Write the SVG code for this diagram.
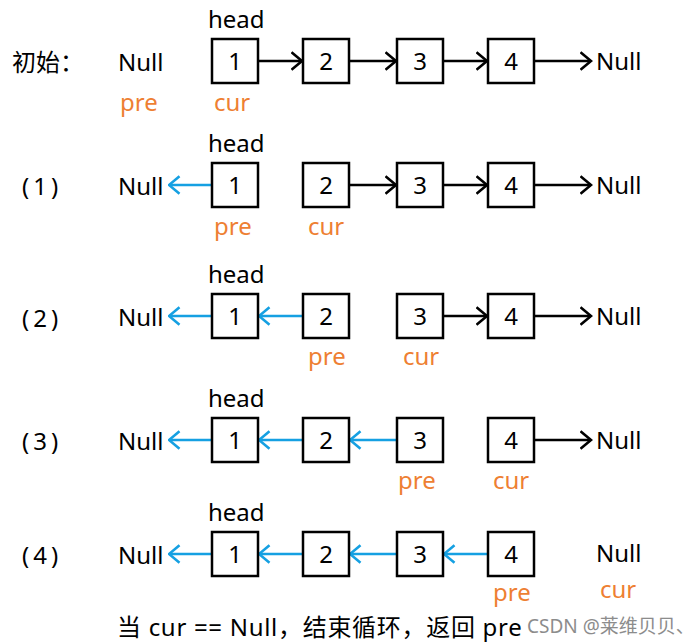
<svg xmlns="http://www.w3.org/2000/svg" width="695" height="643" viewBox="0 0 695 643">
<style>
text{font-family:"Noto Sans","Noto Sans CJK SC",sans-serif;font-size:24px;fill:#000}
.box{fill:#fff;stroke:#000;stroke-width:2.5}
.d{text-anchor:middle}
.o{fill:#EE7F33}
.p{letter-spacing:4px}
.cap{letter-spacing:0.7px}
.bk{stroke:#000;stroke-width:2.5;fill:none}
.bl{stroke:#15A0E2;stroke-width:2.5;fill:none}
.wm{font-size:19px;fill:#8c8c8c}
</style>
<defs>
<marker id="ak" viewBox="0 0 13 20" refX="11.5" refY="10" markerWidth="13" markerHeight="20" markerUnits="userSpaceOnUse" orient="auto"><path d="M1,1.2 L11.5,10 L1,18.8" fill="none" stroke="#000" stroke-width="2.6"/></marker>
<marker id="ab" viewBox="0 0 13 20" refX="11.5" refY="10" markerWidth="13" markerHeight="20" markerUnits="userSpaceOnUse" orient="auto"><path d="M1,1.2 L11.5,10 L1,18.8" fill="none" stroke="#15A0E2" stroke-width="2.6"/></marker>
</defs>

<g id="labels">
<text x="12" y="71">初始：</text>
<text class="p" x="22" y="195">(1)</text>
<text class="p" x="22" y="327">(2)</text>
<text class="p" x="22" y="450">(3)</text>
<text class="p" x="22" y="564">(4)</text>
</g>

<g id="connectors">
<line class="bk" x1="259" y1="61" x2="302" y2="61" marker-end="url(#ak)"/>
<line class="bk" x1="350" y1="61" x2="396" y2="61" marker-end="url(#ak)"/>
<line class="bk" x1="444" y1="61" x2="487" y2="61" marker-end="url(#ak)"/>
<line class="bk" x1="535" y1="61" x2="591" y2="61" marker-end="url(#ak)"/>

<line class="bl" x1="211" y1="185" x2="169" y2="185" marker-end="url(#ab)"/>
<line class="bk" x1="350" y1="185" x2="396" y2="185" marker-end="url(#ak)"/>
<line class="bk" x1="444" y1="185" x2="487" y2="185" marker-end="url(#ak)"/>
<line class="bk" x1="535" y1="185" x2="591" y2="185" marker-end="url(#ak)"/>

<line class="bl" x1="211" y1="316" x2="169" y2="316" marker-end="url(#ab)"/>
<line class="bl" x1="302" y1="316" x2="259" y2="316" marker-end="url(#ab)"/>
<line class="bk" x1="444" y1="316" x2="487" y2="316" marker-end="url(#ak)"/>
<line class="bk" x1="535" y1="316" x2="591" y2="316" marker-end="url(#ak)"/>

<line class="bl" x1="211" y1="440" x2="169" y2="440" marker-end="url(#ab)"/>
<line class="bl" x1="302" y1="440" x2="259" y2="440" marker-end="url(#ab)"/>
<line class="bl" x1="396" y1="440" x2="350" y2="440" marker-end="url(#ab)"/>
<line class="bk" x1="535" y1="440" x2="591" y2="440" marker-end="url(#ak)"/>

<line class="bl" x1="211" y1="554" x2="169" y2="554" marker-end="url(#ab)"/>
<line class="bl" x1="302" y1="554" x2="259" y2="554" marker-end="url(#ab)"/>
<line class="bl" x1="396" y1="554" x2="350" y2="554" marker-end="url(#ab)"/>
<line class="bl" x1="487" y1="554" x2="444" y2="554" marker-end="url(#ab)"/>
</g>

<!-- Row 0 -->
<g id="r0-nullL"><text x="118" y="71">Null</text></g>
<g id="r0-n1"><rect class="box" x="212" y="39" width="46" height="44"/><text class="d" x="235" y="70">1</text></g>
<g id="r0-n2"><rect class="box" x="303" y="39" width="46" height="44"/><text class="d" x="326" y="70">2</text></g>
<g id="r0-n3"><rect class="box" x="397" y="39" width="46" height="44"/><text class="d" x="420" y="70">3</text></g>
<g id="r0-n4"><rect class="box" x="488" y="39" width="46" height="44"/><text class="d" x="511" y="70">4</text></g>
<g id="r0-nullR"><text x="596" y="70">Null</text></g>
<g id="r0-tags"><text x="208" y="28">head</text><text class="o" x="120" y="111">pre</text><text class="o" x="214" y="111">cur</text></g>

<!-- Row 1 -->
<g id="r1-nullL"><text x="118" y="195">Null</text></g>
<g id="r1-n1"><rect class="box" x="212" y="163" width="46" height="44"/><text class="d" x="235" y="194">1</text></g>
<g id="r1-n2"><rect class="box" x="303" y="163" width="46" height="44"/><text class="d" x="326" y="194">2</text></g>
<g id="r1-n3"><rect class="box" x="397" y="163" width="46" height="44"/><text class="d" x="420" y="194">3</text></g>
<g id="r1-n4"><rect class="box" x="488" y="163" width="46" height="44"/><text class="d" x="511" y="194">4</text></g>
<g id="r1-nullR"><text x="596" y="194">Null</text></g>
<g id="r1-tags"><text x="208" y="152">head</text><text class="o" x="214" y="235">pre</text><text class="o" x="308" y="235">cur</text></g>

<!-- Row 2 -->
<g id="r2-nullL"><text x="118" y="326">Null</text></g>
<g id="r2-n1"><rect class="box" x="212" y="294" width="46" height="44"/><text class="d" x="235" y="325">1</text></g>
<g id="r2-n2"><rect class="box" x="303" y="294" width="46" height="44"/><text class="d" x="326" y="325">2</text></g>
<g id="r2-n3"><rect class="box" x="397" y="294" width="46" height="44"/><text class="d" x="420" y="325">3</text></g>
<g id="r2-n4"><rect class="box" x="488" y="294" width="46" height="44"/><text class="d" x="511" y="325">4</text></g>
<g id="r2-nullR"><text x="596" y="325">Null</text></g>
<g id="r2-tags"><text x="208" y="283">head</text><text class="o" x="308" y="365">pre</text><text class="o" x="403" y="365">cur</text></g>

<!-- Row 3 -->
<g id="r3-nullL"><text x="118" y="450">Null</text></g>
<g id="r3-n1"><rect class="box" x="212" y="418" width="46" height="44"/><text class="d" x="235" y="449">1</text></g>
<g id="r3-n2"><rect class="box" x="303" y="418" width="46" height="44"/><text class="d" x="326" y="449">2</text></g>
<g id="r3-n3"><rect class="box" x="397" y="418" width="46" height="44"/><text class="d" x="420" y="449">3</text></g>
<g id="r3-n4"><rect class="box" x="488" y="418" width="46" height="44"/><text class="d" x="511" y="449">4</text></g>
<g id="r3-nullR"><text x="596" y="449">Null</text></g>
<g id="r3-tags"><text x="208" y="407">head</text><text class="o" x="398" y="489">pre</text><text class="o" x="493" y="489">cur</text></g>

<!-- Row 4 -->
<g id="r4-nullL"><text x="118" y="564">Null</text></g>
<g id="r4-n1"><rect class="box" x="212" y="532" width="46" height="44"/><text class="d" x="235" y="563">1</text></g>
<g id="r4-n2"><rect class="box" x="303" y="532" width="46" height="44"/><text class="d" x="326" y="563">2</text></g>
<g id="r4-n3"><rect class="box" x="397" y="532" width="46" height="44"/><text class="d" x="420" y="563">3</text></g>
<g id="r4-n4"><rect class="box" x="488" y="532" width="46" height="44"/><text class="d" x="511" y="563">4</text></g>
<g id="r4-nullR"><text x="596" y="562">Null</text></g>
<g id="r4-tags"><text x="208" y="521">head</text><text class="o" x="493" y="601">pre</text><text class="o" x="600" y="598">cur</text></g>

<g id="caption"><text class="cap" x="117" y="636">当 cur == Null，结束循环，返回 pre</text></g>
<g id="watermark"><text class="wm" x="527" y="633">CSDN @莱维贝贝、</text></g>
</svg>
